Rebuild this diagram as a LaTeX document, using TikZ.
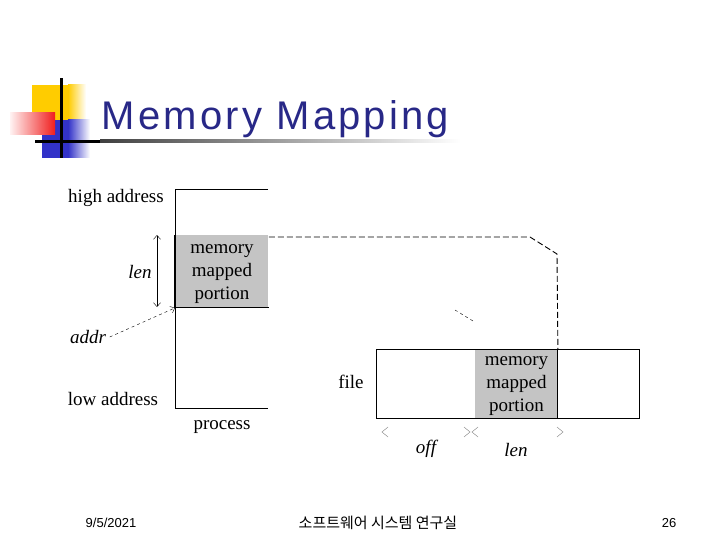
\documentclass[tikz,border=0pt]{standalone}
\usepackage{fontspec}
\setmainfont{Liberation Serif}
\newfontfamily\titlefont[LetterSpace=8]{Liberation Sans}
\newfontfamily\footfont{Liberation Sans}
\newfontfamily\cjk{Noto Sans CJK KR}
\usetikzlibrary{arrows.meta}

\definecolor{titleblue}{RGB}{40,40,135}
\definecolor{mapgray}{RGB}{196,196,196}
\definecolor{logoyellow}{RGB}{255,204,0}
\definecolor{logoblue}{RGB}{50,50,200}
\definecolor{logored}{RGB}{240,30,30}

\tikzset{every picture/.style={line width=0.9pt}}
\tikzset{
  lbl/.style={font=\fontsize{19}{23}\selectfont},
  ilbl/.style={font=\fontsize{19}{23}\selectfont\itshape},
  mapbox/.style={fill=mapgray, inner sep=0pt},
  maptext/.style={align=center, inner sep=0pt, font=\fontsize{19}{23}\selectfont},
  mapline/.style={dash pattern=on 6pt off 3pt},
  tick/.style={thin, color=gray},
  foot/.style={font=\footfont\fontsize{13}{15}\selectfont}
}

\begin{document}
\begin{tikzpicture}[x=1pt, y=-1pt]
        \useasboundingbox (0,0) rectangle (720,540);
        % logo
        \fill[logoyellow] (32,85) rectangle (68,120);
        \shade[left color=logoyellow, right color=white] (68,85) rectangle (86,120);
        \fill[logoblue] (42,120) rectangle (68,158);
        \shade[left color=logoblue, right color=white] (68,120) rectangle (90,158);
        \shade[left color=red!5, right color=logored] (10,113) rectangle (55,135);
        \fill[black] (60,78) rectangle (63,158);
        \fill[black] (35,140) rectangle (100,143);
        \shade[left color=black!75, right color=white] (100,140) rectangle (460,143);
        \node[anchor=base west, text=titleblue, font=\titlefont\fontsize{40}{48}\selectfont] (title) at (98,130) {Memory Mapping};

        % process
        \draw (268,189) -- (175,189) -- (175,408) -- (268,408);
        \node[mapbox, minimum width=93pt, minimum height=72pt, anchor=north west] (pmap) at (175,235) {};
        \node[maptext] (ptext) at ([yshift=-3pt]pmap.center) {memory\\mapped\\portion};
        \draw (pmap.south west) -- (pmap.south east);
        \draw[line width=2pt] (pmap.north west) -- (pmap.south west);
        \node[lbl] (high) at (116,198) {high address};
        \node[lbl] (low) at (113,399) {low address};
        \node[lbl] (proc) at (222,427) {process};
        \node[ilbl] (plen) at (140,272) {len};
        \node[ilbl] (addr) at (88,337) {addr};
        \coordinate (lentop) at (157,235);
        \coordinate (lenbot) at (157,307);
        \draw[thin, {Straight Barb[length=4pt,width=7pt]}-{Straight Barb[length=4pt,width=7pt]}] (lentop) -- (lenbot);
        \draw[thin, dashed, -{Straight Barb[length=4pt,width=7pt]}] (addr.east) -- (pmap.south west);

        % file
        \node[mapbox, minimum width=82pt, minimum height=69pt, anchor=north west] (fmap) at (475,349) {};
        \node[maptext] (ftext) at ([yshift=-2pt]fmap.center) {memory\\mapped\\portion};
        \node[draw, inner sep=0pt, minimum width=263pt, minimum height=69pt, anchor=north west] (fbox) at (376,349) {};
        \draw (fmap.north east) -- (fmap.south east);
        \node[lbl] (file) at (351,382) {file};
        \draw[mapline] ([yshift=-2pt]pmap.north east) -- (530,237) -- (557,254) -- (fmap.north east);
        \draw[dashed, thin] (455,310) -- (473,321);
        \draw[tick] (388,427) -- (382,432) -- (388,437);
        \draw[tick] (464,427) -- (470,432) -- (464,437);
        \draw[tick] (478,427) -- (472,432) -- (478,437);
        \draw[tick] (557,427) -- (563,432) -- (557,437);
        \node[ilbl] (off) at (426,449) {off};
        \node[ilbl] (flen) at (516,450) {len};

        % footer
        \node[foot] (date) at (111,523) {9/5/2021};
        \node[font=\cjk\fontsize{15}{17}\selectfont] (lab) at (378,523) {소프트웨어 시스템 연구실};
        \node[foot] (page) at (669,523) {26};
    \end{tikzpicture}
\end{document}
